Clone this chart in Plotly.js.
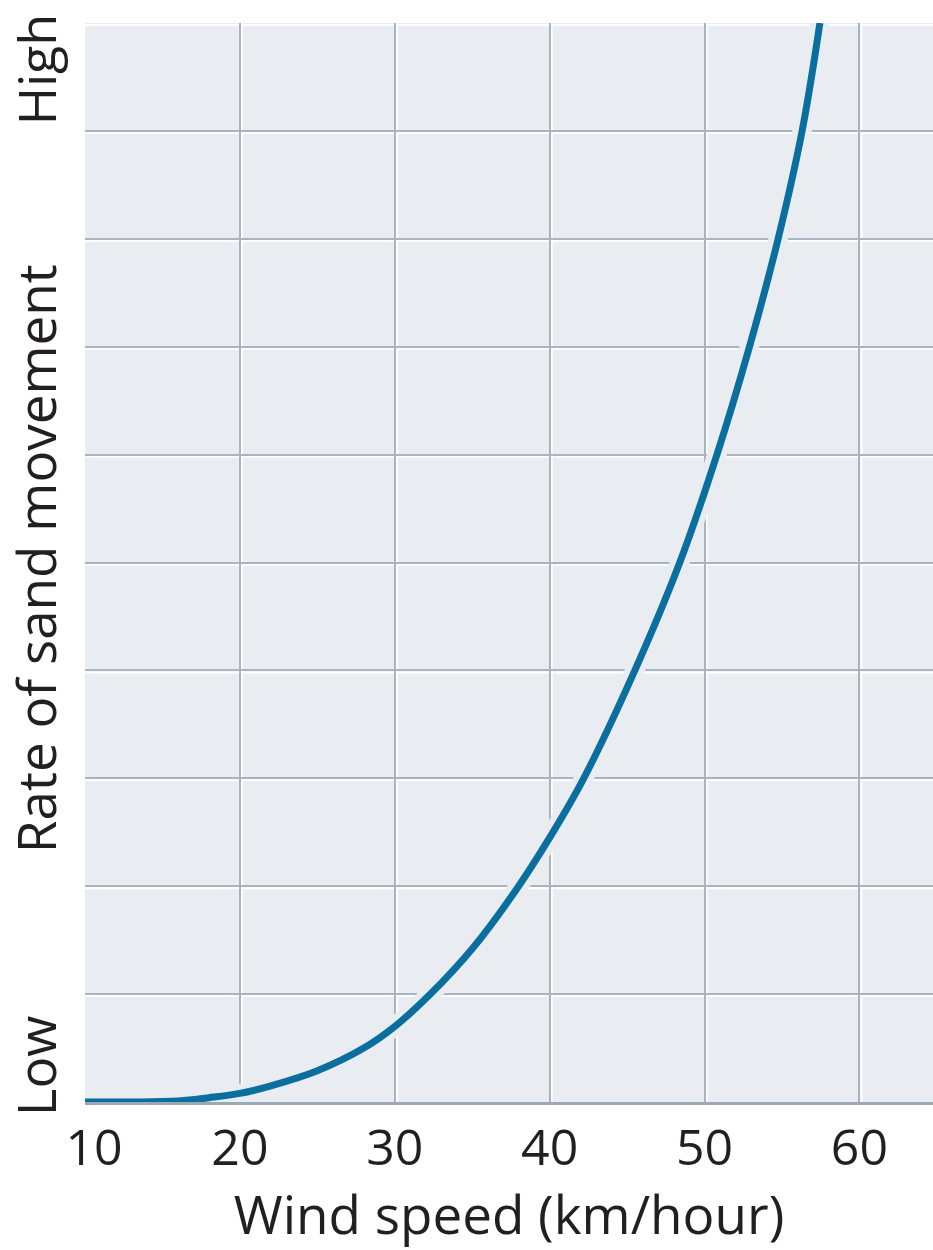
<!DOCTYPE html>
<html>
<head>
<meta charset="utf-8">
<script src="https://cdn.plot.ly/plotly-3.0.1.min.js"></script>
<style>
  html, body { margin: 0; padding: 0; background: #ffffff; }
  #chart { width: 933px; height: 1250px; }
</style>
</head>
<body>
<div id="chart"></div>
<script>
// Wind speed (km/hour)
const windSpeed = [10, 13, 16, 18, 20, 22, 25, 28, 30, 32.3, 35, 37.85, 40, 42.2, 45.5, 48.4, 50.8, 52.9, 54.75, 56.3, 57.45];
// Relative rate of sand movement (0 = Low, 10 = High)
const sandRate  = [0, 0, 0.01, 0.04, 0.08, 0.15, 0.29, 0.5, 0.7, 1.0, 1.42, 1.97, 2.45, 3.0, 4.0, 5.0, 6.0, 7.0, 8.0, 9.0, 10.0];

const xTicks = [10, 20, 30, 40, 50, 60];
const xTickText = ["\u00a0\u200a10", "20", "30", "40", "50", "60"];
const yGrid = [0, 1, 2, 3, 4, 5, 6, 7, 8, 9, 10];
const yLabels = { low: "Low", high: "High", title: "Rate of sand movement" };
const xTitle = "Wind speed (km/hour)";

const plotBg = "#e9edf1";
const gridCol = "#a9b4c1";
const lineCol = "#0a6f9e";
const textCol = "#231f20";
const fontFam = "'Open Sans', Lato, sans-serif";

const traces = [
  { x: windSpeed, y: sandRate, mode: "lines", type: "scatter",
    line: { color: plotBg, width: 19, shape: "spline", smoothing: 1 },
    hoverinfo: "skip", showlegend: false },
  { x: windSpeed, y: sandRate, mode: "lines", type: "scatter",
    line: { color: lineCol, width: 7, shape: "spline", smoothing: 1 },
    showlegend: false }
];

// white highlight next to each grid line (embossed look)
const shapes = [];
xTicks.forEach(v => {
  if (v > 10) shapes.push({ type: "line", layer: "between", xref: "x", yref: "paper",
    xsizemode: "pixel", xanchor: v, x0: 2, x1: 2, y0: 0, y1: 1,
    line: { color: "#ffffff", width: 2 } });
});
yGrid.forEach(v => {
  if (v > 0) shapes.push({ type: "line", layer: "between", xref: "paper", yref: "y",
    ysizemode: "pixel", yanchor: v, y0: -2, y1: -2, x0: 0, x1: 1,
    line: { color: "#ffffff", width: 2 } });
});

const layout = {
  width: 933, height: 1250,
  margin: { l: 85, r: 0, t: 23, b: 148 },
  paper_bgcolor: "#ffffff",
  plot_bgcolor: plotBg,
  font: { family: fontFam, color: textCol },
  showlegend: false,
  shapes: shapes,
  xaxis: {
    range: [10, 64.75],
    tickmode: "array", tickvals: xTicks, ticktext: xTickText,
    ticks: "", showgrid: true, gridcolor: gridCol, gridwidth: 2,
    zeroline: false, showline: true, linecolor: "#9aa8b7", linewidth: 3,
    tickfont: { size: 50, family: fontFam, color: textCol },
    ticklabelstandoff: 0,
    title: { text: xTitle, font: { size: 53, family: fontFam, color: textCol }, standoff: 22 },
    fixedrange: true
  },
  yaxis: {
    range: [0, 10],
    tickmode: "array", tickvals: yGrid,
    showticklabels: false, ticks: "",
    showgrid: true, gridcolor: gridCol, gridwidth: 2,
    zeroline: false, showline: false,
    fixedrange: true
  },
  annotations: [
    { text: yLabels.high, xref: "paper", yref: "paper", x: -0.059, y: 0.957,
      xanchor: "center", yanchor: "middle", textangle: -90, showarrow: false,
      font: { size: 52, family: fontFam, color: textCol } },
    { text: yLabels.title, xref: "paper", yref: "paper", x: -0.059, y: 0.504,
      xanchor: "center", yanchor: "middle", textangle: -90, showarrow: false,
      font: { size: 53, family: fontFam, color: textCol } },
    { text: yLabels.low, xref: "paper", yref: "paper", x: -0.059, y: 0.034,
      xanchor: "center", yanchor: "middle", textangle: -90, showarrow: false,
      font: { size: 53, family: fontFam, color: textCol } }
  ]
};

Plotly.newPlot("chart", traces, layout, { displayModeBar: false, staticPlot: true });
</script>
</body>
</html>
